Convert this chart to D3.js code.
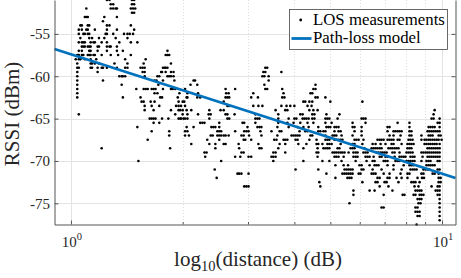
<!DOCTYPE html>
<html><head><meta charset="utf-8">
<script src="https://cdn.jsdelivr.net/npm/d3@7"></script>
<style>html,body{margin:0;padding:0;background:#fff;} svg{display:block;}</style>
</head><body><svg id="c" width="461" height="278"></svg>
<script>
// RSSI levels (dBm) and the distances (m) of LOS measurements recorded at each level
const rssiLevels = [-51,-51.5,-52,-52.5,-53,-53.5,-54,-54.5,-55,-55.5,-56,-56.5,-57,-57.5,-58,-58.5,-59,-59.5,-60,-60.5,-61,-61.5,-62,-62.5,-63,-63.5,-64,-64.5,-65,-65.5,-66,-66.5,-67,-67.5,-68,-68.5,-69,-69.5,-70,-70.5,-71,-71.5,-72,-72.5,-73,-73.5,-74,-74.5,-75,-75.5,-76,-76.5,-77,-77.5];
const losDistances = [
[1.25,1.27,1.46,1.48],
[1.28,1.30,1.46,1.48],
[1.10,1.28,1.30,1.32,1.33,1.45,1.47,1.49],
[1.46,1.48],
[1.09,1.10,1.11,1.23,1.33],
[1.22],
[1.06,1.07,1.11,1.12,1.25,1.27,1.45],
[1.05,1.07,1.10,1.11,1.16,1.25,1.33,1.48],
[1.05,1.08,1.09,1.11,1.12,1.24,1.25,1.30,1.39,1.42,1.44,1.47],
[1.06,1.12,1.14,1.19,1.23,1.32,1.42],
[1.05,1.07,1.08,1.09,1.13,1.15,1.16,1.21,1.25,1.35,1.45,1.51],
[1.07,1.08,1.09,1.11,1.12,1.13,1.18,1.19,1.25,1.27,1.28,1.33],
[1.05,1.07,1.12,1.13,1.18,1.25,1.33,1.38,1.82],
[1.04,1.05,1.07,1.08,1.11,1.12,1.13,1.15,1.16,1.21,1.28,1.34,1.45,1.80,1.82,1.84],
[1.03,1.05,1.06,1.09,1.13,1.17,1.40,1.59],
[1.04,1.13,1.14,1.16,1.19,1.31,1.42,1.57,1.86],
[1.04,1.05,1.13,1.14,1.18,1.21,1.22,1.25,1.33,1.40,1.42,1.54,1.56,1.58,1.77,1.79,1.80,1.82,3.34,3.38],
[1.04,1.18,1.56,1.58,1.75,1.76,1.80,1.86,1.89,3.30,3.34,3.69],
[1.04,1.35,1.37,1.38,1.40,1.58,1.71,1.73,1.82,1.84,1.86,1.89,3.28,3.32,3.41],
[1.04,1.22,1.68,1.70,1.77,1.90,2.14,2.16,3.41],
[1.04,1.37,1.72,2.10,2.19,3.32,4.56],
[1.04,1.50,1.57,1.59,1.61,1.65,1.67,1.69,1.77,1.86,1.88,1.91,2.03,2.61,2.77,3.34,3.38,3.71,4.50,4.56],
[1.04,1.68,1.71,1.96,2.06,2.20,2.62,2.66,3.10,3.74,4.42,4.47],
[1.04,1.38,1.54,1.74,1.76,1.94,2.05,2.06,2.19,2.23,2.61,2.64,2.67,3.06,3.19,3.71,3.76,4.56,4.62,4.85],
[1.55,1.57,1.64,1.68,1.95,2.00,2.02,2.58,4.23,4.28,4.39,4.47,5.00,6.10],
[1.58,1.65,1.73,1.92,1.95,1.98,2.03,2.64,2.67,3.10,3.20,3.28,3.69,3.81,3.90,4.00,4.34,4.45],
[1.58,1.67,1.86,1.95,1.97,2.00,2.05,2.11,2.36,2.53,2.58,3.56,3.78,3.83,4.39,4.50,4.62,9.55],
[1.05,1.91,2.00,2.06,2.20,2.35,2.38,2.61,2.64,2.76,3.14,3.62,4.15,4.21,4.47,4.53,4.88,5.29,9.49],
[1.63,1.65,1.67,1.69,1.76,1.83,1.95,1.97,1.98,2.01,2.03,2.06,2.36,2.64,2.67,3.14,3.18,3.22,3.62,3.86,4.00,4.05,4.21,4.26,4.31,4.37,4.47,4.53,4.85,4.91,4.97,5.23,6.07,6.14,6.22,9.37,9.49,9.85],
[1.67,1.73,2.23,2.26,2.29,2.51,2.90,2.93,3.14,3.62,3.83,3.98,4.15,4.34,4.50,4.85,5.04,5.74,6.22,7.59,8.17,9.73,9.85],
[1.51,2.05,2.14,2.39,2.42,2.45,2.51,2.99,3.18,3.22,3.26,3.60,3.86,4.08,4.23,4.37,4.64,4.88,4.94,5.00,5.13,5.19,5.26,5.74,5.81,6.07,7.13,7.22,8.17,9.20,9.31,9.43,9.55,9.85],
[1.65,1.84,2.03,2.06,2.48,2.51,2.54,2.77,2.93,2.97,3.01,3.24,3.47,3.65,3.69,4.13,4.28,4.34,4.64,4.70,4.79,4.85,5.13,5.26,5.33,5.81,6.07,7.13,7.40,7.49,7.59,7.68,7.78,8.17,8.27,9.14,9.25,9.37,9.49,9.61,9.73,9.85],
[1.84,2.03,2.08,2.38,2.41,2.48,2.51,2.54,2.58,2.61,2.66,2.88,2.92,3.02,3.26,3.60,3.93,3.98,4.03,4.08,4.13,4.42,4.47,4.85,5.07,5.13,5.19,5.36,5.74,6.07,7.22,7.40,7.73,8.17,8.27,8.80,9.20,9.31,9.43,9.79,9.91],
[1.61,2.33,2.51,2.92,2.95,3.06,3.53,3.58,3.74,3.78,3.83,4.03,4.08,4.39,4.59,4.85,4.91,4.97,5.13,5.19,5.26,5.33,5.39,5.81,5.88,5.96,6.14,6.70,6.79,6.87,6.96,7.13,7.22,7.31,7.40,7.59,7.68,8.12,8.22,8.33,8.80,8.97,9.08,9.20,9.31,9.43,9.55,9.67,9.79,9.97],
[2.11,2.36,2.45,2.58,2.61,2.83,3.20,3.65,3.78,4.10,4.31,4.59,4.64,4.76,4.91,4.97,5.04,5.33,5.74,5.81,6.10,6.50,6.62,6.83,7.04,7.31,7.40,7.78,8.07,8.17,8.27,8.38,8.97,9.08,9.20,9.31,9.43,9.55,9.67,9.85],
[1.21,1.85,2.45,2.84,3.22,3.26,3.62,4.23,4.62,4.79,4.85,4.91,4.97,5.23,5.29,5.67,5.74,5.81,6.18,6.46,6.54,6.62,6.70,6.79,6.87,7.17,7.26,7.35,7.45,7.54,7.63,8.07,8.17,8.27,9.14,9.25,9.37,9.49,9.61,9.73,9.85],
[2.29,2.32,2.88,2.92,3.51,3.56,3.78,4.59,4.64,5.07,5.13,5.19,5.26,5.33,5.39,5.46,5.60,5.77,5.85,5.92,6.14,6.22,6.30,6.66,6.74,6.83,6.91,7.00,7.09,7.35,7.45,7.68,8.02,8.12,8.22,8.33,8.80,8.91,9.03,9.14,9.25,9.37,9.49,9.61,9.73,9.85],
[2.30,2.77,2.86,3.01,3.06,3.47,3.51,3.56,4.62,5.13,5.19,5.26,5.43,5.77,5.85,5.92,6.22,6.30,6.38,6.54,6.79,6.87,7.04,7.13,7.45,7.68,7.78,7.88,7.97,8.22,8.33,8.43,8.86,9.14,9.25,9.37,9.49,9.61,9.73,9.85],
[1.52,2.54,3.51,4.23,4.76,4.97,5.36,5.85,6.26,6.50,6.58,6.96,7.04,7.13,7.49,7.59,7.68,8.02,8.12,8.22,8.33,8.43,8.80,9.08,9.20,9.31,9.73,9.85],
[5.16,5.43,5.58,5.99,6.07,6.38,6.58,6.66,6.74,7.13,7.40,7.88,8.17,8.27,8.38,9.08,9.20,9.31,9.43,9.55],
[2.44,4.03,4.64,5.46,5.53,5.60,5.67,5.74,6.07,6.14,6.50,6.87,7.40,7.78,8.22,8.33,8.43,8.54,8.91,9.03,9.14,9.25,9.73,9.85],
[2.81,2.84,2.88,3.01,4.88,5.39,5.46,5.53,5.60,5.67,5.74,5.96,6.03,6.46,6.54,6.62,6.96,7.22,7.73,8.07,8.17,8.80,8.91,9.43,9.55,9.79],
[2.47,5.16,5.56,5.63,5.70,6.70,6.79,7.13,7.22,7.54,7.78,8.07,8.59,8.83,8.94,9.79,9.91],
[4.67,6.10,6.62,6.70,7.00,7.09,7.63,8.27,8.38,8.48,8.70,9.79,9.91],
[2.93,2.97,3.01,4.70,6.79,7.17,8.43,8.64,9.37,9.73,9.85],
[5.77,6.38,6.58,7.35,8.48,8.59,8.70,8.80,9.61,9.73,9.85],
[5.77,6.96,7.83,7.92,8.38,8.48,8.70,8.80,8.91,9.73,9.85],
[8.59,8.70,8.80,9.85],
[5.63,8.64,8.75,9.85],
[6.87,6.96,8.48,8.59,9.85],
[8.48,8.59,8.70,9.85],
[8.59,8.70,9.85],
[9.85],
[8.54]
];
// Path-loss model line (endpoints at the axis limits)
const modelDistance = [0.903, 10.87];
const modelRssi = [-56.78, -72.01];
// Axis ticks and labels
const yTickValues = [-75, -70, -65, -60, -55];
const xMajorTicks = [1, 10];
const xMajorExponents = ["0", "1"];
const xMinorTicks = [2, 3, 4, 5, 6, 7, 8, 9];
const legendLabels = ["LOS measurements", "Path-loss model"];
const xTitleParts = ["log", "10", "(distance) (dB)"];
const yTitle = "RSSI (dBm)";

const FONT = "'Liberation Serif', 'Times New Roman', serif";
const AX = "#555";
const GRID = "#e3e3e3";
const BLUE = "#0072BD";

const svg = d3.select("#c");
const m = {l: 54.5, r: 455.5, t: 0, b: 224.5};
const x = d3.scaleLog().domain(modelDistance).range([m.l, m.r]);
const y = d3.scaleLinear().domain([-77.5, -51]).range([m.b, m.t]);

const points = [];
rssiLevels.forEach((r, i) => losDistances[i].forEach(d => points.push([d, r])));

// grid
const grid = svg.append("g");
grid.selectAll(".gy").data(yTickValues).join("line")
  .attr("x1", m.l).attr("x2", m.r)
  .attr("y1", d => Math.round(y(d)) + 0.5).attr("y2", d => Math.round(y(d)) + 0.5)
  .attr("stroke", GRID).attr("stroke-width", 1);
grid.selectAll(".gx").data(xMajorTicks).join("line")
  .attr("y1", m.t).attr("y2", m.b)
  .attr("x1", d => Math.round(x(d)) + 0.5).attr("x2", d => Math.round(x(d)) + 0.5)
  .attr("stroke", GRID).attr("stroke-width", 1);
grid.selectAll(".gm").data(xMinorTicks).join("line")
  .attr("y1", m.t).attr("y2", m.b)
  .attr("x1", d => Math.round(x(d)) + 0.5).attr("x2", d => Math.round(x(d)) + 0.5)
  .attr("stroke", "#dcdcdc").attr("stroke-width", 1).attr("stroke-dasharray", "1,2");

// scatter
svg.append("g").selectAll("circle").data(points).join("circle")
  .attr("cx", d => x(d[0])).attr("cy", d => y(d[1])).attr("r", 1.3).attr("fill", "#000");

// model line
svg.append("line")
  .attr("x1", x(modelDistance[0])).attr("y1", y(modelRssi[0]))
  .attr("x2", x(modelDistance[1])).attr("y2", y(modelRssi[1]))
  .attr("stroke", BLUE).attr("stroke-width", 2.8);

// axes
function styleAxis(g) {
  g.select(".domain").attr("stroke", AX).attr("stroke-width", 1);
  g.selectAll(".tick line").attr("stroke", AX).attr("stroke-width", 1);
}
const gxMinor = svg.append("g").attr("transform", `translate(0,${m.b})`)
  .call(d3.axisBottom(x).tickValues(xMinorTicks).tickSize(-2.5).tickFormat(""));
gxMinor.select(".domain").remove();
gxMinor.selectAll(".tick line").attr("stroke", AX);
const gx = svg.append("g").attr("transform", `translate(0,${m.b})`)
  .call(d3.axisBottom(x).tickValues(xMajorTicks).tickSizeInner(-4).tickSizeOuter(0).tickFormat(""));
styleAxis(gx);
const gyl = svg.append("g").attr("transform", `translate(${m.l},0)`)
  .call(d3.axisLeft(y).tickValues(yTickValues).tickSizeInner(-4).tickSizeOuter(0).tickPadding(4.5).tickFormat(d => String(d)));
styleAxis(gyl);
gyl.selectAll(".tick text").attr("font-family", FONT).attr("font-size", 15).attr("fill", "#262626");
const gyr = svg.append("g").attr("transform", `translate(${m.r},0)`)
  .call(d3.axisRight(y).tickValues(yTickValues).tickSizeInner(-4).tickSizeOuter(0).tickFormat(""));
styleAxis(gyr);

// x tick labels 10^k
xMajorTicks.forEach((v, i) => {
  const t = svg.append("text").attr("x", x(v) + 1).attr("y", 246.5)
    .attr("text-anchor", "middle").attr("font-family", FONT).attr("font-size", 15).attr("fill", "#262626");
  t.append("tspan").text("10");
  t.append("tspan").attr("dy", -7).attr("font-size", 10.5).text(xMajorExponents[i]);
});

// axis titles
const xt = svg.append("text").attr("x", 258).attr("y", 266).attr("text-anchor", "middle")
  .attr("font-family", FONT).attr("font-size", 21).attr("fill", "#262626");
xt.append("tspan").text(xTitleParts[0]);
xt.append("tspan").attr("dy", 5).attr("font-size", 14.5).text(xTitleParts[1]);
xt.append("tspan").attr("dy", -5).text(xTitleParts[2]);

svg.append("text").attr("transform", "translate(19,114) rotate(-90)").attr("text-anchor", "middle")
  .attr("font-family", FONT).attr("font-size", 21).attr("fill", "#262626").text(yTitle);

// legend
const lg = svg.append("g");
lg.append("rect").attr("x", 289.5).attr("y", 9.5).attr("width", 158).attr("height", 40)
  .attr("fill", "#fff").attr("stroke", "#444").attr("stroke-width", 0.8);
lg.append("circle").attr("cx", 300.7).attr("cy", 20).attr("r", 1.4).attr("fill", "#000");
lg.append("line").attr("x1", 291.5).attr("x2", 311.5).attr("y1", 38.5).attr("y2", 38.5)
  .attr("stroke", BLUE).attr("stroke-width", 2.8);
lg.selectAll("text.l").data(legendLabels).join("text")
  .attr("x", 313).attr("y", (d, i) => 24.5 + i * 18.5)
  .attr("font-family", FONT).attr("font-size", 16.8).attr("fill", "#000").text(d => d);
</script>
</body></html>
